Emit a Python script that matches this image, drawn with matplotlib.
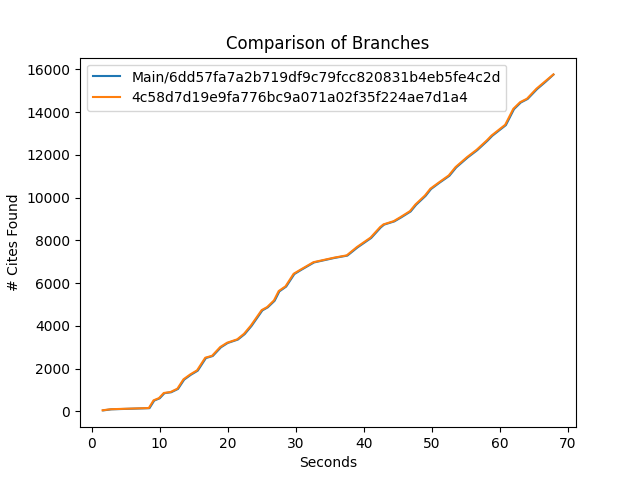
import matplotlib
matplotlib.use("Agg")
import matplotlib.pyplot as plt

labels = ["Main/6dd57fa7a2b719df9c79fcc820831b4eb5fe4c2d",
          "4c58d7d19e9fa776bc9a071a02f35f224ae7d1a4"]

x_main = [1.7, 2.9, 8.5, 9.2, 10.0, 10.7, 11.7, 12.7, 13.6, 14.6, 15.6, 16.8, 17.8, 19.0, 20.0,
          21.5, 22.5, 23.5, 25.1, 25.9, 26.9, 27.6, 28.6, 29.8, 30.8, 32.7, 35.7, 37.6, 39.1,
          41.1, 42.5, 43.0, 44.5, 45.5, 46.9, 47.7, 49.1, 49.9, 51.1, 52.6, 53.6, 55.3, 56.7,
          58.2, 58.9, 60.9, 62.1, 63.1, 64.1, 65.5, 66.8, 67.9]
y_main = [45, 95, 150, 505, 610, 850, 895, 1050, 1485, 1715, 1905, 2495, 2590, 2995, 3200,
          3360, 3615, 3995, 4725, 4870, 5175, 5615, 5840, 6425, 6620, 6970, 7180, 7290, 7675,
          8115, 8605, 8740, 8890, 9075, 9355, 9665, 10085, 10405, 10690, 11025, 11415, 11885, 12225,
          12665, 12895, 13395, 14145, 14455, 14620, 15085, 15440, 15760]

x_branch = [1.6, 2.8, 8.4, 9.1, 9.9, 10.6, 11.6, 12.6, 13.5, 14.5, 15.5, 16.7, 17.7, 18.9, 19.9,
            21.4, 22.4, 23.4, 25.0, 25.8, 26.8, 27.5, 28.5, 29.7, 30.7, 32.6, 35.6, 37.5, 39.0,
            41.0, 42.4, 42.9, 44.4, 45.4, 46.8, 47.6, 49.0, 49.8, 51.0, 52.5, 53.5, 55.2, 56.6,
            58.1, 58.8, 60.8, 62.0, 63.0, 64.0, 65.4, 66.7, 67.9]
y_branch = [50, 100, 155, 515, 620, 860, 905, 1060, 1500, 1730, 1920, 2510, 2600, 3010, 3210,
            3370, 3630, 4010, 4740, 4880, 5190, 5630, 5850, 6440, 6630, 6980, 7190, 7300, 7690,
            8130, 8620, 8750, 8900, 9090, 9370, 9680, 10100, 10420, 10700, 11040, 11430, 11900, 12240,
            12680, 12910, 13410, 14160, 14470, 14630, 15100, 15450, 15770]

fig, ax = plt.subplots(figsize=(6.4, 4.8), dpi=100)
ax.plot(x_main, y_main, color="#1f77b4", label=labels[0])
ax.plot(x_branch, y_branch, color="#ff7f0e", label=labels[1])
ax.set_title("Comparison of Branches")
ax.set_xlabel("Seconds")
ax.set_ylabel("# Cites Found")
ax.legend(loc="upper left")
fig.savefig("out.png")
